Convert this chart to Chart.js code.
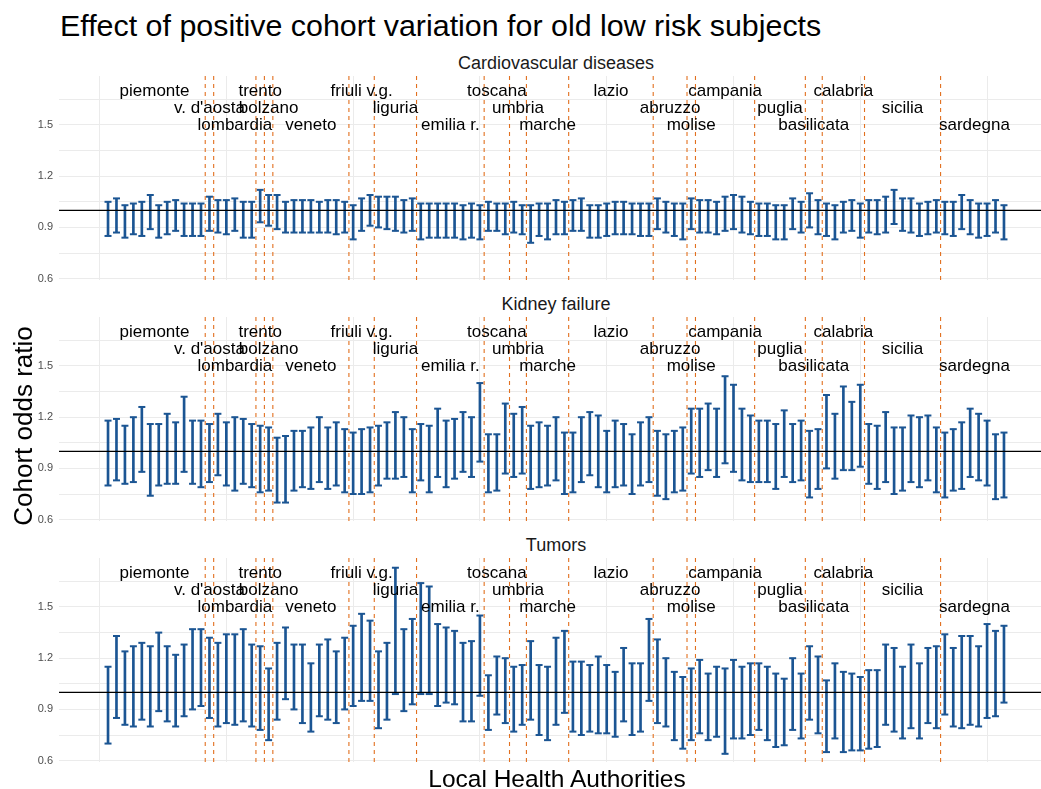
<!DOCTYPE html>
<html>
<head>
<meta charset="utf-8">
<title>Effect of positive cohort variation for old low risk subjects</title>
<script src="https://cdn.jsdelivr.net/npm/chart.js@4.4.1/dist/chart.umd.min.js"></script>
<style>
  body { margin: 0; background: #fff; }
  #page { position: relative; width: 1041px; height: 789px; overflow: hidden;
          font-family: "Liberation Sans", Arial, Helvetica, sans-serif; color: #000; }
  .panel { position: absolute; left: 0; }
  .txt { position: absolute; white-space: nowrap; line-height: 1; }
  .strip { width: 400px; left: 356px; text-align: center; font-size: 18px; color: #1a1a1a; }
</style>
</head>
<body>
<div id="page">
  <div class="txt" style="left:60px; top:10px; font-size:30.4px;">Effect of positive cohort variation for old low risk subjects</div>

  <div class="txt strip" style="top:54px;">Cardiovascular diseases</div>
  <div class="panel" style="top:76px;"><canvas id="cardio" width="1053" height="212"></canvas></div>

  <div class="txt strip" style="top:295px;">Kidney failure</div>
  <div class="panel" style="top:317px;"><canvas id="kidney" width="1053" height="212"></canvas></div>

  <div class="txt strip" style="top:536px;">Tumors</div>
  <div class="panel" style="top:558px;"><canvas id="tumor" width="1053" height="212"></canvas></div>

  <div class="txt" style="left:-127px; top:413px; width:300px; text-align:center; font-size:26px; transform:rotate(-90deg);">Cohort odds ratio</div>
  <div class="txt" style="left:357px; top:767px; width:400px; text-align:center; font-size:24.5px;">Local Health Authorities</div>
</div>

<script>
const REGIONS = ['piemonte', "v. d'aosta", 'lombardia', 'trento', 'bolzano', 'veneto',
  'friuli v.g.', 'liguria', 'emilia r.', 'toscana', 'umbria', 'marche', 'lazio',
  'abruzzo', 'molise', 'campania', 'puglia', 'basilicata', 'calabria', 'sicilia', 'sardegna'];
const REGION_SIZES = [12, 1, 5, 1, 1, 9, 3, 5, 8, 3, 2, 5, 10, 4, 1, 7, 6, 2, 5, 9, 8];
const LABEL_LEVELS = [1.7, 1.6, 1.5];

const Y_TICKS = [0.6, 0.9, 1.2, 1.5];
const Y_MINOR = [0.75, 1.05, 1.35, 1.65];
const X_BREAKS = [0, 15, 30, 45, 60, 75, 90, 105];

const CARDIO_LOW = [0.85, 0.87, 0.84, 0.86, 0.85, 0.89, 0.84, 0.86, 0.88, 0.85, 0.85, 0.85,
  0.88, 0.87, 0.86, 0.88, 0.84, 0.84, 0.93, 0.91, 0.89, 0.87, 0.87, 0.87, 0.87, 0.87, 0.87, 0.86, 0.87,
  0.83, 0.88, 0.91, 0.90, 0.89, 0.88, 0.87, 0.88, 0.83, 0.84, 0.84, 0.84, 0.84, 0.83, 0.84, 0.83,
  0.88, 0.88, 0.86, 0.87, 0.86, 0.81, 0.85, 0.83, 0.86, 0.86, 0.88, 0.88, 0.84, 0.84, 0.85, 0.86,
  0.86, 0.86, 0.85, 0.85, 0.89, 0.87, 0.85, 0.83, 0.89, 0.87, 0.87, 0.86, 0.88, 0.89, 0.87, 0.86,
  0.85, 0.85, 0.83, 0.83, 0.89, 0.87, 0.90, 0.86, 0.85, 0.83, 0.87, 0.88, 0.84, 0.87, 0.86, 0.87,
  0.92, 0.88, 0.87, 0.85, 0.86, 0.87, 0.86, 0.85, 0.89, 0.86, 0.84, 0.85, 0.87, 0.83];
const CARDIO_HIGH = [1.05, 1.07, 1.03, 1.04, 1.05, 1.09, 1.03, 1.05, 1.06, 1.04, 1.04, 1.04,
  1.08, 1.06, 1.06, 1.07, 1.05, 1.05, 1.12, 1.09, 1.09, 1.05, 1.06, 1.06, 1.06, 1.05, 1.06, 1.06, 1.05,
  1.03, 1.07, 1.09, 1.08, 1.08, 1.08, 1.06, 1.07, 1.04, 1.04, 1.04, 1.04, 1.04, 1.03, 1.04, 1.03,
  1.05, 1.04, 1.04, 1.05, 1.03, 1.03, 1.04, 1.04, 1.06, 1.05, 1.06, 1.07, 1.03, 1.03, 1.04, 1.05,
  1.05, 1.04, 1.04, 1.04, 1.07, 1.05, 1.04, 1.04, 1.07, 1.06, 1.06, 1.05, 1.08, 1.09, 1.08, 1.05,
  1.04, 1.04, 1.03, 1.03, 1.07, 1.05, 1.10, 1.06, 1.04, 1.03, 1.05, 1.06, 1.04, 1.06, 1.06, 1.08,
  1.12, 1.07, 1.07, 1.04, 1.05, 1.06, 1.05, 1.05, 1.09, 1.06, 1.04, 1.04, 1.06, 1.03];

const KIDNEY_LOW = [0.80, 0.83, 0.81, 0.82, 0.88, 0.74, 0.80, 0.81, 0.81, 0.88, 0.81, 0.79,
  0.82, 0.86, 0.80, 0.77, 0.81, 0.79, 0.76, 0.77, 0.70, 0.70, 0.77, 0.79, 0.78, 0.82, 0.78, 0.80, 0.76,
  0.75, 0.75, 0.76, 0.80, 0.84, 0.84, 0.85, 0.76, 0.83, 0.76, 0.85, 0.79, 0.84, 0.88, 0.85, 0.94,
  0.76, 0.77, 0.87, 0.85, 0.87, 0.78, 0.79, 0.80, 0.83, 0.75, 0.76, 0.82, 0.86, 0.79, 0.76, 0.79,
  0.80, 0.75, 0.80, 0.82, 0.74, 0.72, 0.76, 0.77, 0.87, 0.85, 0.89, 0.85, 0.93, 0.88, 0.83, 0.82,
  0.82, 0.82, 0.78, 0.85, 0.82, 0.83, 0.73, 0.78, 0.90, 0.84, 0.89, 0.89, 0.91, 0.81, 0.78, 0.82,
  0.75, 0.77, 0.82, 0.79, 0.83, 0.76, 0.73, 0.77, 0.78, 0.85, 0.83, 0.80, 0.72, 0.73];
const KIDNEY_HIGH = [1.18, 1.19, 1.15, 1.20, 1.26, 1.16, 1.16, 1.22, 1.17, 1.32, 1.18, 1.18,
  1.16, 1.22, 1.17, 1.20, 1.19, 1.16, 1.15, 1.14, 1.08, 1.09, 1.12, 1.12, 1.14, 1.20, 1.14, 1.17, 1.13,
  1.11, 1.13, 1.14, 1.15, 1.17, 1.23, 1.20, 1.13, 1.16, 1.15, 1.25, 1.18, 1.19, 1.23, 1.20, 1.40,
  1.10, 1.10, 1.28, 1.22, 1.26, 1.15, 1.17, 1.15, 1.20, 1.11, 1.11, 1.20, 1.23, 1.21, 1.12, 1.18,
  1.16, 1.10, 1.17, 1.20, 1.12, 1.10, 1.12, 1.14, 1.25, 1.25, 1.28, 1.25, 1.44, 1.39, 1.25, 1.21,
  1.18, 1.18, 1.16, 1.24, 1.16, 1.18, 1.12, 1.13, 1.33, 1.22, 1.38, 1.29, 1.39, 1.16, 1.15, 1.23,
  1.14, 1.14, 1.21, 1.20, 1.21, 1.14, 1.11, 1.13, 1.17, 1.25, 1.22, 1.18, 1.10, 1.11];

const TUMOR_LOW = [0.70, 0.85, 0.81, 0.80, 0.84, 0.80, 0.89, 0.83, 0.80, 0.86, 0.90, 0.92,
  0.85, 0.80, 0.82, 0.81, 0.83, 0.80, 0.78, 0.72, 0.84, 0.96, 0.90, 0.82, 0.77, 0.86, 0.84, 0.82, 0.90,
  0.92, 0.95, 0.95, 0.79, 0.84, 0.99, 0.89, 0.93, 0.99, 0.99, 0.92, 0.94, 0.93, 0.83, 0.83, 0.98,
  0.78, 0.87, 0.82, 0.77, 0.81, 0.84, 0.75, 0.72, 0.81, 0.88, 0.77, 0.75, 0.77, 0.76, 0.76, 0.74,
  0.83, 0.75, 0.77, 0.95, 0.82, 0.80, 0.72, 0.67, 0.72, 0.76, 0.72, 0.74, 0.64, 0.73, 0.73, 0.75,
  0.78, 0.72, 0.68, 0.69, 0.78, 0.73, 0.84, 0.76, 0.65, 0.73, 0.65, 0.66, 0.66, 0.67, 0.68, 0.81,
  0.77, 0.73, 0.79, 0.73, 0.82, 0.79, 0.87, 0.80, 0.79, 0.81, 0.80, 0.85, 0.86, 0.94];
const TUMOR_HIGH = [1.15, 1.33, 1.24, 1.27, 1.29, 1.27, 1.35, 1.27, 1.22, 1.28, 1.37, 1.37,
  1.32, 1.29, 1.34, 1.34, 1.37, 1.28, 1.27, 1.14, 1.29, 1.38, 1.28, 1.28, 1.17, 1.28, 1.31, 1.24, 1.32,
  1.39, 1.46, 1.42, 1.24, 1.29, 1.73, 1.37, 1.43, 1.64, 1.62, 1.40, 1.38, 1.36, 1.29, 1.30, 1.45,
  1.10, 1.21, 1.20, 1.15, 1.16, 1.30, 1.16, 1.15, 1.32, 1.36, 1.18, 1.18, 1.16, 1.21, 1.16, 1.12,
  1.26, 1.17, 1.17, 1.43, 1.31, 1.20, 1.12, 1.09, 1.14, 1.19, 1.11, 1.15, 1.14, 1.19, 1.15, 1.17,
  1.17, 1.15, 1.11, 1.08, 1.20, 1.11, 1.27, 1.21, 1.07, 1.17, 1.12, 1.11, 1.09, 1.13, 1.13, 1.28,
  1.26, 1.15, 1.28, 1.17, 1.26, 1.27, 1.34, 1.26, 1.33, 1.33, 1.27, 1.40, 1.36, 1.39];

const Y_MIN = 0.592, Y_MAX = 1.787;
const X_MIN = -4.8, X_MAX = 112.8;
const BAR_COLOR = '#1b5593';
const VLINE_COLOR = '#e2701f';
const FONT = '"Liberation Sans", Arial, Helvetica, sans-serif';

Chart.defaults.font.family = FONT;

// region borders (between LHAs) and label positions (middle of each region)
const boundaries = [];
const centers = [];
let start = 1;
REGION_SIZES.forEach((n, k) => {
  centers.push(start + (n - 1) / 2);
  start += n;
  if (k < REGION_SIZES.length - 1) boundaries.push(start - 0.5);
});

const regionLabels = {
  id: 'regionLabels',
  afterDatasetsDraw(chart) {
    const {ctx, scales: {x, y}} = chart;
    ctx.save();
    ctx.font = '17px ' + FONT;
    ctx.fillStyle = '#000';
    ctx.textAlign = 'center';
    ctx.textBaseline = 'middle';
    REGIONS.forEach((name, k) => {
      ctx.fillText(name, x.getPixelForValue(centers[k]), y.getPixelForValue(LABEL_LEVELS[k % 3]));
    });
    ctx.restore();
  }
};

// no automatic padding around the plot area
function noPad(s) {
  s.paddingTop = 0;
  s.paddingBottom = 0;
  s.paddingLeft = 0;
  s.paddingRight = 0;
}

function makePanel(canvasId, low, high) {
  const bars = low.map((v, i) => ({x: i + 1, y: [v, high[i]]}));
  const caps = low.map((v, i) => ({x: i + 1, y: v}))
    .concat(high.map((v, i) => ({x: i + 1, y: v})));
  const vlines = [];
  boundaries.forEach(b => {
    vlines.push({x: b, y: Y_MIN}, {x: b, y: Y_MAX}, {x: b, y: null});
  });

  return new Chart(document.getElementById(canvasId), {
    type: 'bar',
    data: {
      datasets: [
        {type: 'line', data: vlines, borderColor: VLINE_COLOR, borderWidth: 1.1,
         borderDash: [4, 4], pointRadius: 0, spanGaps: false, order: 0},
        {type: 'line', data: [{x: X_MIN, y: 1}, {x: X_MAX, y: 1}], borderColor: '#000',
         borderWidth: 1.2, pointRadius: 0, order: 1},
        {type: 'scatter', data: caps, pointStyle: 'line', pointRadius: 3.5,
         pointBorderColor: BAR_COLOR, pointBorderWidth: 2, order: 2},
        {type: 'bar', data: bars, backgroundColor: BAR_COLOR, barThickness: 2, order: 3}
      ]
    },
    options: {
      responsive: false,
      animation: false,
      events: [],
      layout: {padding: {top: 0, left: 0, right: 0, bottom: 8}, autoPadding: false},
      plugins: {legend: {display: false}, tooltip: {enabled: false}},
      scales: {
        x: {
          type: 'linear', min: X_MIN, max: X_MAX, offset: false,
          afterBuildTicks: s => { s.ticks = X_BREAKS.map(v => ({value: v})); },
          afterFit: s => { s.height = 0; noPad(s); },
          ticks: {display: false},
          grid: {color: '#ebebeb', lineWidth: 1, drawTicks: false, offset: false},
          border: {display: false}
        },
        y: {
          type: 'linear', min: Y_MIN, max: Y_MAX,
          afterBuildTicks: s => {
            s.ticks = Y_TICKS.concat(Y_MINOR).sort((a, b) => a - b).map(v => ({value: v}));
          },
          afterFit: s => { s.width = 59; noPad(s); },
          ticks: {
            autoSkip: false, padding: 6, color: '#4d4d4d', font: {size: 11},
            callback: v => Y_TICKS.includes(v) ? v.toFixed(1) : ''
          },
          grid: {color: '#ebebeb', lineWidth: 1, drawTicks: false},
          border: {display: false}
        }
      }
    },
    plugins: [regionLabels]
  });
}

makePanel('cardio', CARDIO_LOW, CARDIO_HIGH);
makePanel('kidney', KIDNEY_LOW, KIDNEY_HIGH);
makePanel('tumor', TUMOR_LOW, TUMOR_HIGH);
</script>
</body>
</html>
